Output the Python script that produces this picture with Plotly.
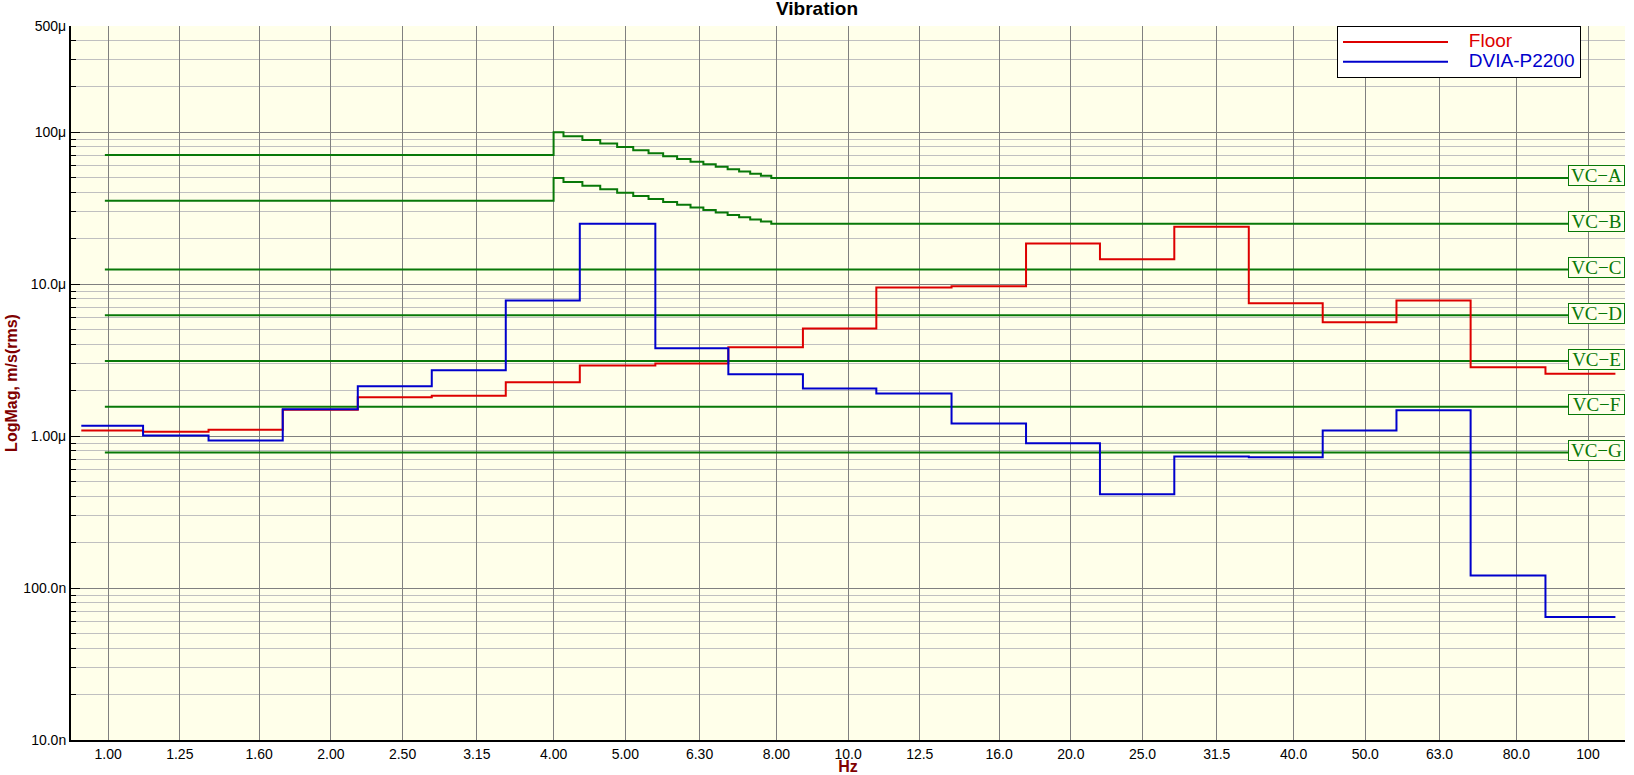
import math
import plotly.graph_objects as go

# ---------------- data ----------------
band_labels = ["1.00", "1.25", "1.60", "2.00", "2.50", "3.15", "4.00", "5.00", "6.30", "8.00",
               "10.0", "12.5", "16.0", "20.0", "25.0", "31.5", "40.0", "50.0", "63.0", "80.0", "100"]
band_hz = [1.0, 1.25, 1.6, 2.0, 2.5, 3.15, 4.0, 5.0, 6.3, 8.0,
           10.0, 12.5, 16.0, 20.0, 25.0, 31.5, 40.0, 50.0, 63.0, 80.0, 100.0]
# analyser band boundaries (Hz)
band_edges_hz = [0.92, 1.115, 1.367, 1.722, 2.175, 2.738, 3.447, 4.34, 5.49, 6.89, 8.69,
                 10.92, 13.8, 17.4, 21.9, 27.6, 34.8, 43.8, 55.1, 69.4, 87.6, 108.9]

floor_um = [1.087, 1.07, 1.10, 1.49, 1.80, 1.84, 2.26, 2.91, 3.01, 3.84,
            5.10, 9.49, 9.68, 18.5, 14.6, 23.9, 7.48, 5.61, 7.82, 2.84, 2.57]
dvia_um = [1.17, 1.01, 0.934, 1.50, 2.13, 2.71, 7.82, 25.0, 3.78, 2.55,
           2.06, 1.91, 1.21, 0.897, 0.414, 0.735, 0.726, 1.09, 1.48, 0.121, 0.0646]

vc_names = ["VC−A", "VC−B", "VC−C", "VC−D", "VC−E", "VC−F", "VC−G"]
vc_um = [50.0, 25.0, 12.5, 6.25, 3.12, 1.56, 0.78]          # level above 8 Hz
vc_low_um = [70.7, 35.4, 12.5, 6.25, 3.12, 1.56, 0.78]       # level below 4 Hz
vc_has_slope = [True, True, False, False, False, False, False]
vc_step_hz = [4.0, 4.25, 4.5, 4.75, 5.0, 5.25, 5.5, 5.75, 6.0, 6.25,
              6.5, 6.75, 7.0, 7.25, 7.5, 7.75, 8.0]
vc_start_hz = 0.99
vc_end_hz = 112.2

y_tickvals = [1e-8, 1e-7, 1e-6, 1e-5, 1e-4, 5e-4]
y_ticktext = ["10.0n", "100.0n", "1.00μ", "10.0μ", "100μ", "500μ"]

# ---------------- styles ----------------
PLOT_BG = "#FFFFEA"
RED = "#DD0000"
BLUE = "#0000CC"
GREEN = "#087808"
DARKRED = "#800000"
FONT = "Liberation Sans, Arial, sans-serif"
SERIF = "Liberation Serif, Times New Roman, serif"

fig = go.Figure()


def legend_label(text, color):
    return "<span style='color:%s; font-size:19px'>&nbsp;&nbsp;&nbsp;%s</span>" % (color, text)


def step_trace(values_um, color, label):
    xs = list(band_edges_hz)
    ys = [v * 1e-6 for v in values_um] + [values_um[-1] * 1e-6]
    return go.Scatter(x=xs, y=ys, mode="lines", line=dict(color=color, width=2, shape="hv"),
                      name=legend_label(label, color), showlegend=True, hoverinfo="skip")


# VC criteria curves
for name, lvl, low, slope in zip(vc_names, vc_um, vc_low_um, vc_has_slope):
    if slope:
        xs = [vc_start_hz, vc_step_hz[0]] + [f - 0.125 for f in vc_step_hz[1:]] + [vc_end_hz]
        ys = [low * 1e-6] + [lvl * 8.0 / f * 1e-6 for f in vc_step_hz] + [lvl * 1e-6]
    else:
        xs = [vc_start_hz, vc_end_hz]
        ys = [lvl * 1e-6, lvl * 1e-6]
    fig.add_trace(go.Scatter(x=xs, y=ys, mode="lines", line=dict(color=GREEN, width=2, shape="hv"),
                             showlegend=False, hoverinfo="skip", name=name))
    fig.add_annotation(x=1, xref="paper", xanchor="right", y=math.log10(lvl * 1e-6), yref="y",
                       yanchor="middle", yshift=2, text=name, showarrow=False,
                       width=55, height=19, align="center", valign="middle",
                       font=dict(family=SERIF, size=19, color=GREEN),
                       bordercolor=GREEN, borderwidth=1, borderpad=0, bgcolor=PLOT_BG)

fig.add_trace(step_trace(floor_um, RED, "Floor"))
fig.add_trace(step_trace(dvia_um, BLUE, "DVIA-P2200"))

# minor log gridlines
minor_vals = []
for e in range(-8, -3):
    for m in range(2, 10):
        v = m * 10.0 ** e
        if v <= 5e-4:
            minor_vals.append(v)

fig.update_layout(
    width=1634, height=775,
    margin=dict(l=71, r=9, t=26, b=35, autoexpand=False),
    paper_bgcolor="white", plot_bgcolor=PLOT_BG,
    font=dict(family=FONT, size=14, color="black"),
    title=dict(text="<b>Vibration</b>", x=0.5, xref="container", xanchor="center",
               y=1 - 2 / 775, yref="container", yanchor="top", pad=dict(t=0, b=0),
               font=dict(family=FONT, size=19, color="black")),
    showlegend=True,
    legend=dict(x=(1337 - 71) / 1554, xanchor="left", y=1, yanchor="top",
                bgcolor="white", bordercolor="black", borderwidth=1,
                font=dict(family=FONT, size=13), itemwidth=105, tracegroupgap=0),
    xaxis=dict(type="log", range=[math.log10(0.891), math.log10(112.2)], automargin=True,
               tickvals=band_hz, ticktext=band_labels, tickfont=dict(size=14),
               showgrid=True, gridcolor="#808080", gridwidth=1,
               showline=True, linecolor="black", linewidth=2, ticks="", zeroline=False,
               title=dict(text="<b>Hz</b>", font=dict(family=FONT, size=16, color=DARKRED),
                          standoff=7)),
    yaxis=dict(type="log", range=[-8, math.log10(5e-4)], automargin=True,
               tickvals=y_tickvals, ticktext=y_ticktext, tickfont=dict(size=14),
               showgrid=True, gridcolor="#808080", gridwidth=1,
               showline=True, linecolor="black", linewidth=2,
               ticks="inside", ticklen=9, tickcolor="black", zeroline=False,
               minor=dict(tickvals=minor_vals, showgrid=True, gridcolor="#C0C0C0", gridwidth=1,
                          ticks="inside", ticklen=5, tickcolor="black"),
               title=dict(text="<b>LogMag, m/s(rms)</b>", font=dict(family=FONT, size=16, color=DARKRED),
                          standoff=2)),
)

fig.write_html("out.html", config={"displayModeBar": False},
               post_script="document.body.style.margin='0';document.body.style.overflow='hidden';")
